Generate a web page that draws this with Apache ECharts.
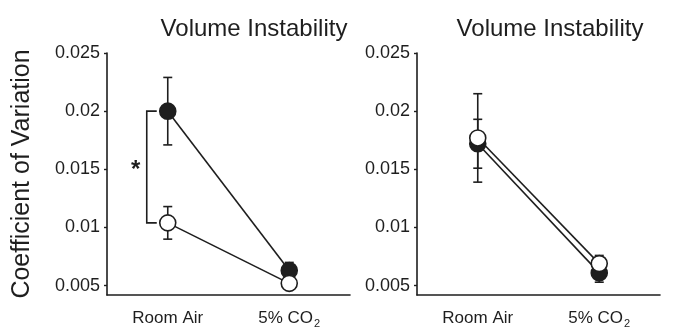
<!DOCTYPE html>
<html>
<head>
<meta charset="utf-8">
<script src="https://cdn.jsdelivr.net/npm/echarts@6/dist/echarts.min.js"></script>
<style>
  html, body { margin: 0; padding: 0; background: #fff; }
  #chart { width: 684px; height: 330px; }
</style>
</head>
<body>
<div id="chart"></div>
<script>
// Conditions on the x axis
const categories = ['Room Air', '5% CO2'];
const yTicks = [0.005, 0.01, 0.015, 0.02, 0.025];

// Left panel: mean coefficient of variation and error (±)
const leftFilledMean = [0.0200, 0.0063];
const leftFilledErr  = [0.0029, 0.0007];
const leftOpenMean   = [0.0104, 0.0052];
const leftOpenErr    = [0.0014, 0.0004];

// Right panel
const rightFilledMean = [0.0172, 0.0061];
const rightFilledErr  = [0.0021, 0.0008];
const rightOpenMean   = [0.0177, 0.0069];
const rightOpenErr    = [0.0038, 0.0007];

const INK = '#1e1e1e';
const FONT = 'Liberation Sans, Arial, sans-serif';

function errorRows(means, errs) {
  return means.map((m, i) => [i, m - errs[i], m + errs[i]]);
}

function errorBarSeries(gridIdx, means, errs) {
  return {
    type: 'custom',
    xAxisIndex: gridIdx,
    yAxisIndex: gridIdx,
    z: 1,
    silent: true,
    data: errorRows(means, errs),
    renderItem(params, api) {
      const lo = api.coord([api.value(0), api.value(1)]);
      const hi = api.coord([api.value(0), api.value(2)]);
      const cap = 4.5;
      const style = { stroke: INK, lineWidth: 1.6, fill: null };
      return {
        type: 'group',
        children: [
          { type: 'line', shape: { x1: lo[0], y1: lo[1], x2: hi[0], y2: hi[1] }, style },
          { type: 'line', shape: { x1: hi[0] - cap, y1: hi[1], x2: hi[0] + cap, y2: hi[1] }, style },
          { type: 'line', shape: { x1: lo[0] - cap, y1: lo[1], x2: lo[0] + cap, y2: lo[1] }, style }
        ]
      };
    }
  };
}

function meanSeries(gridIdx, means, filled, z) {
  return {
    type: 'line',
    xAxisIndex: gridIdx,
    yAxisIndex: gridIdx,
    z: z,
    data: means,
    symbol: 'circle',
    symbolSize: 16,
    showSymbol: true,
    silent: true,
    animation: false,
    lineStyle: { color: INK, width: 1.6 },
    itemStyle: {
      color: filled ? INK : '#ffffff',
      borderColor: INK,
      borderWidth: 1.6
    }
  };
}

// Significance bracket between the two Room Air means, with its asterisk
function bracketSeries(gridIdx, upper, lower) {
  return {
    type: 'custom',
    xAxisIndex: gridIdx,
    yAxisIndex: gridIdx,
    z: 1,
    silent: true,
    data: [[0, upper, lower]],
    renderItem(params, api) {
      const top = api.coord([api.value(0), api.value(1)]);
      const bot = api.coord([api.value(0), api.value(2)]);
      const xv = top[0] - 21;
      const xe = top[0] - 11;
      const style = { stroke: INK, lineWidth: 1.6, fill: null };
      return {
        type: 'group',
        children: [
          { type: 'polyline', shape: { points: [[xe, top[1]], [xv, top[1]], [xv, bot[1]], [xe, bot[1]]] }, style },
          {
            type: 'text',
            style: {
              text: '*', x: xv - 11, y: (top[1] + bot[1]) / 2 + 3,
              fill: INK, font: 'bold 24px ' + FONT,
              textAlign: 'center', textVerticalAlign: 'middle'
            }
          }
        ]
      };
    }
  };
}

const grids = [
  { left: 107, top: 53, width: 243, height: 242 },
  { left: 417, top: 53, width: 243, height: 242 }
];

function xAxisFor(gridIdx) {
  return {
    type: 'category',
    gridIndex: gridIdx,
    data: categories,
    boundaryGap: true,
    axisLine: { lineStyle: { color: INK, width: 1.6 } },
    axisTick: { alignWithLabel: true, length: 4, lineStyle: { color: INK, width: 1.4 } },
    axisLabel: {
      interval: 0,
      margin: 11,
      color: INK,
      fontFamily: FONT,
      fontSize: 17,
      lineHeight: 24,
      formatter(v) {
        return v === '5% CO2' ? '5% CO{sub|2}' : v;
      },
      rich: {
        sub: { fontSize: 11, fontFamily: FONT, color: INK, lineHeight: 12, padding: [12, 0, 0, 1] }
      }
    },
    splitLine: { show: false }
  };
}

function yAxisFor(gridIdx, withName) {
  return {
    type: 'value',
    gridIndex: gridIdx,
    min: 0.0042,
    max: 0.025,
    name: withName ? 'Coefficient of Variation' : '',
    nameLocation: 'middle',
    nameRotate: 90,
    nameGap: 72,
    nameTextStyle: { color: INK, fontFamily: FONT, fontSize: 25 },
    axisLine: { show: true, lineStyle: { color: INK, width: 1.6 } },
    axisTick: { show: true, length: 3, customValues: yTicks, lineStyle: { color: INK, width: 1.4 } },
    axisLabel: {
      margin: 7,
      color: INK,
      fontFamily: FONT,
      fontSize: 18,
      customValues: yTicks,
      formatter: v => String(+v.toFixed(3))
    },
    splitLine: { show: false }
  };
}

const chart = echarts.init(document.getElementById('chart'), null, { renderer: 'canvas' });
chart.setOption({
  animation: false,
  backgroundColor: '#ffffff',
  title: [
    { text: 'Volume Instability', left: 249, top: 12, textAlign: 'center',
      textStyle: { color: INK, fontFamily: FONT, fontSize: 24, fontWeight: 'normal' } },
    { text: 'Volume Instability', left: 545, top: 12, textAlign: 'center',
      textStyle: { color: INK, fontFamily: FONT, fontSize: 24, fontWeight: 'normal' } }
  ],
  grid: grids,
  xAxis: [xAxisFor(0), xAxisFor(1)],
  yAxis: [yAxisFor(0, true), yAxisFor(1, false)],
  series: [
    errorBarSeries(0, leftFilledMean, leftFilledErr),
    errorBarSeries(0, leftOpenMean, leftOpenErr),
    bracketSeries(0, leftFilledMean[0], leftOpenMean[0]),
    meanSeries(0, leftFilledMean, true, 2),
    meanSeries(0, leftOpenMean, false, 3),
    errorBarSeries(1, rightFilledMean, rightFilledErr),
    errorBarSeries(1, rightOpenMean, rightOpenErr),
    meanSeries(1, rightFilledMean, true, 2),
    meanSeries(1, rightOpenMean, false, 3)
  ]
});
</script>
</body>
</html>
